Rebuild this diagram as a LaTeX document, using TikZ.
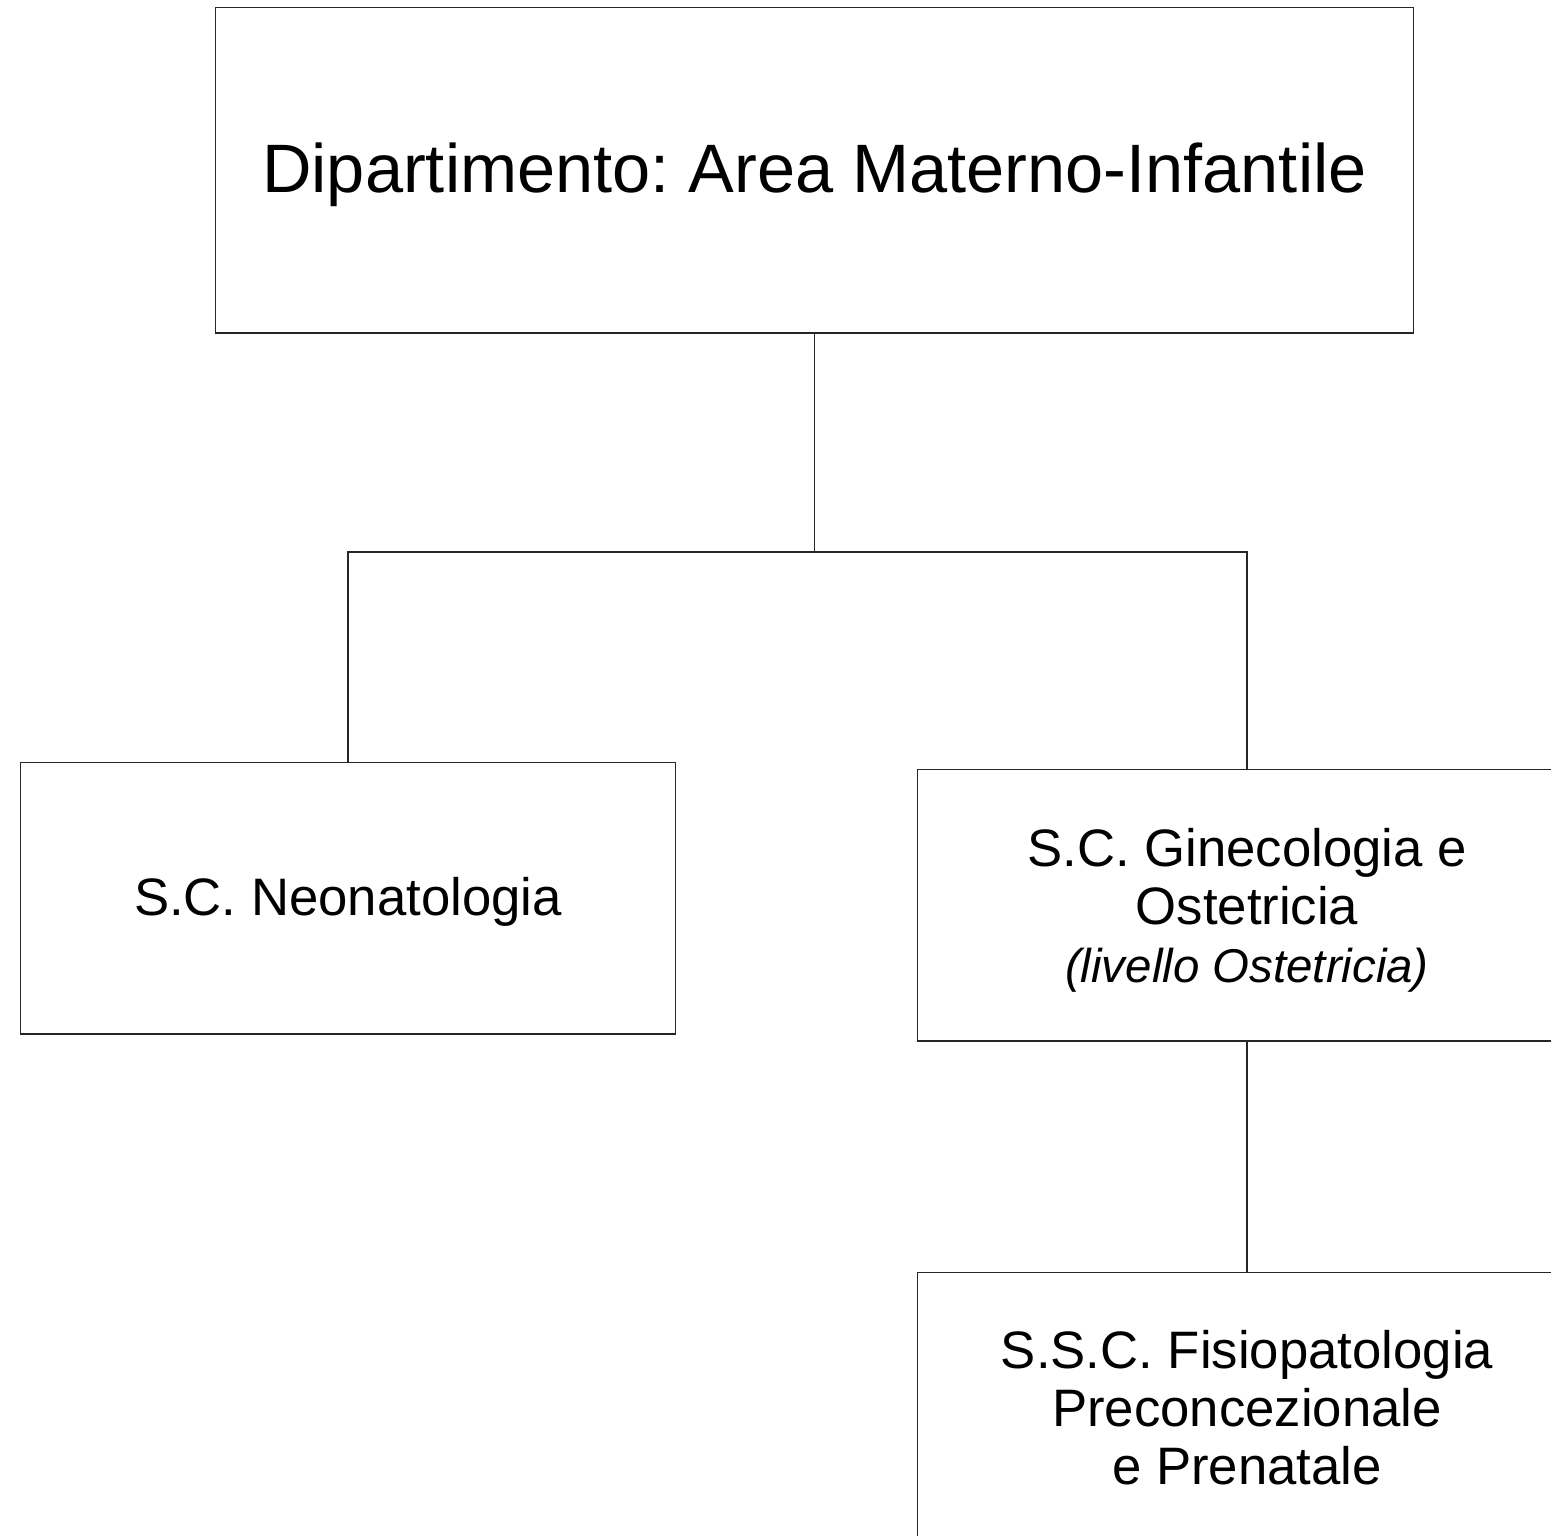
\documentclass[tikz,border=0pt]{standalone}
\usepackage{fontspec}
\setmainfont{Liberation Sans}
\usepackage{tikz}
\usetikzlibrary{positioning, calc}
\frenchspacing

\begin{document}
\begin{tikzpicture}[
    x=0.02cm, y=-0.02cm,
    unit/.style={rectangle, draw=black!85, line width=0.6pt, inner sep=0pt, align=center, font=\fontsize{30}{33}\selectfont},
    dept/.style={unit, minimum width=23.98cm, minimum height=6.52cm, font=\fontsize{39}{44}\selectfont},
    sc/.style={unit, minimum width=13.2cm, minimum height=5.44cm},
    link/.style={draw=black!85, line width=0.6pt}
]
\useasboundingbox (0,0) rectangle (1551,1535);
\clip (0,0) rectangle (1551,1535);
\node[dept, text depth=2.5pt] (dip) at (814.5,170) {Dipartimento: Area Materno-Infantile};
\node[sc, minimum width=13.12cm, text depth=1.7pt] (neo) at (348,898) {S.C. Neonatologia};
\node[sc, text depth=-4.5pt] (gin) at (1247,905) {S.C. Ginecologia e\\Ostetricia\\{\fontsize{27}{30}\selectfont\itshape (livello Ostetricia)}};
\node[sc] (ssc) at (1247,1408) {S.S.C. Fisiopatologia\\Preconcezionale\\e Prenatale};
\coordinate (split) at (814.5,552);
\draw[link] (dip.south) -- (split);
\draw[link] (split) -| (neo.north);
\draw[link] (split) -| (gin.north);
\draw[link] (gin.south) -- (ssc.north);
\end{tikzpicture}
\end{document}
